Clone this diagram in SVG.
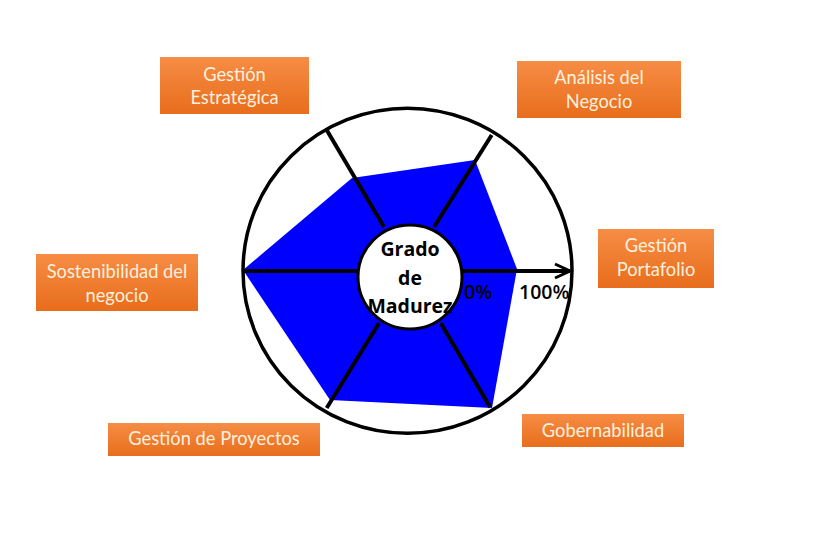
<svg xmlns="http://www.w3.org/2000/svg" width="817" height="558" viewBox="0 0 817 558">
<defs>
<linearGradient id="og" x1="0" y1="0" x2="0" y2="1">
<stop offset="0" stop-color="#f68d45"/>
<stop offset="1" stop-color="#e86d1c"/>
</linearGradient>
<marker id="arr" markerWidth="12" markerHeight="12" refX="10" refY="5" orient="auto" markerUnits="userSpaceOnUse" viewBox="0 0 12 10" overflow="visible">
<path d="M -5 -2 L 10 5 L -5 12" fill="none" stroke="#000" stroke-width="3"/>
</marker>
<style>
.box{fill:url(#og);}
.lbl{font-family:Lato,"Open Sans",sans-serif;font-size:18.3px;fill:#fdf0df;text-anchor:middle;}
.ax{stroke:#000;stroke-width:4;fill:none;}
.ctr{font-family:"Open Sans","DejaVu Sans",sans-serif;font-weight:bold;font-size:19.5px;fill:#000;text-anchor:middle;}
.pct{font-family:"Open Sans","DejaVu Sans",sans-serif;font-weight:600;font-size:19.5px;fill:#000;}
</style>
</defs>
<rect width="817" height="558" fill="#fff"/>
<g id="chart">
<polygon points="243,270 352,178 475,160 517,269 492,408 330,400" fill="#0000ff"/>
<ellipse cx="407.5" cy="270.8" rx="164.5" ry="162.5" fill="none" stroke="#000" stroke-width="3.5"/>
</g>
<g id="connectors">
<line class="ax" x1="326.7" y1="130" x2="384" y2="227"/>
<line class="ax" x1="491.7" y1="135" x2="434" y2="227"/>
<line class="ax" x1="326.7" y1="408" x2="379" y2="323"/>
<line class="ax" x1="490" y1="407" x2="440.7" y2="323"/>
<line class="ax" x1="243" y1="271" x2="360" y2="271"/>
<line class="ax" x1="460" y1="271" x2="570" y2="271" marker-end="url(#arr)"/>
</g>
<g id="center">
<circle cx="410" cy="277" r="52" fill="#fff" stroke="#000" stroke-width="3"/>
<text class="ctr" x="410" y="256">Grado</text>
<text class="ctr" x="410" y="285">de</text>
<text class="ctr" x="410" y="313">Madurez</text>
</g>
<g id="scale">
<text class="pct" x="464" y="299">0%</text>
<text class="pct" x="519" y="299">100%</text>
</g>
<g id="n-estrategica">
<rect class="box" x="160" y="57" width="149" height="57"/>
<text class="lbl" x="234.5" y="80.5">Gestión</text>
<text class="lbl" x="234.5" y="104">Estratégica</text>
</g>
<g id="n-analisis">
<rect class="box" x="517" y="61" width="164" height="57"/>
<text class="lbl" x="599" y="84">Análisis del</text>
<text class="lbl" x="599" y="108">Negocio</text>
</g>
<g id="n-portafolio">
<rect class="box" x="598" y="229" width="116" height="59"/>
<text class="lbl" x="656" y="252">Gestión</text>
<text class="lbl" x="656" y="276">Portafolio</text>
</g>
<g id="n-sostenibilidad">
<rect class="box" x="36" y="254" width="162" height="57"/>
<text class="lbl" x="117" y="278">Sostenibilidad del</text>
<text class="lbl" x="117" y="302">negocio</text>
</g>
<g id="n-proyectos">
<rect class="box" x="108" y="423" width="212" height="33"/>
<text class="lbl" x="214" y="445">Gestión de Proyectos</text>
</g>
<g id="n-gobernabilidad">
<rect class="box" x="522" y="414" width="162" height="33"/>
<text class="lbl" x="603" y="437">Gobernabilidad</text>
</g>
</svg>
